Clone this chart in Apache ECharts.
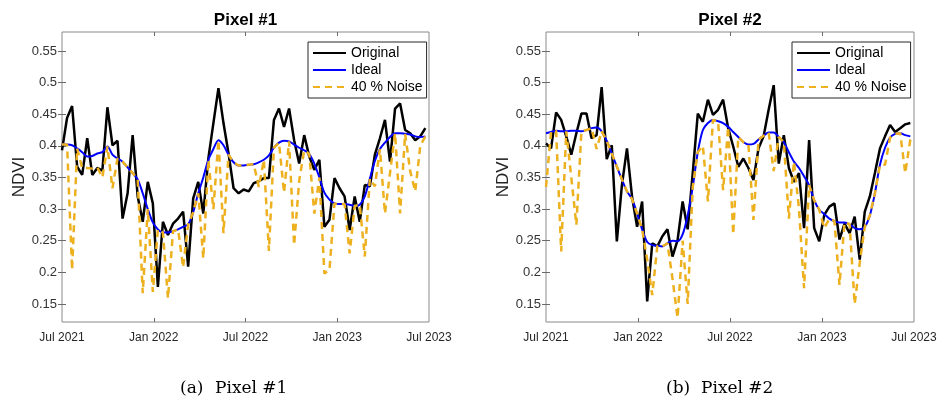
<!DOCTYPE html>
<html><head><meta charset="utf-8">
<script src="https://cdn.jsdelivr.net/npm/echarts@6/dist/echarts.min.js"></script>
<style>html,body{margin:0;padding:0;background:#fff}#c{width:945px;height:398px}</style>
</head><body><div id="c"></div>
<script>
// ---- data ----
const X_TICK_VALUES = [0, 6, 12, 18, 24];            // months since Jul 2021
const X_TICK_LABELS = ['Jul 2021', 'Jan 2022', 'Jul 2022', 'Jan 2023', 'Jul 2023'];
const Y_TICK_VALUES = [0.15, 0.2, 0.25, 0.3, 0.35, 0.4, 0.45, 0.5, 0.55];
const STEP_MONTHS = 0.33;                            // sampling step (~10 days)
const SERIES_NAMES = ['Original', 'Ideal', '40 % Noise'];
const PANEL_TITLES = ['Pixel #1', 'Pixel #2'];
const CAPTIONS = [['(a)', 'Pixel #1'], ['(b)', 'Pixel #2']];

const P1_ORIGINAL = [0.393,0.444,0.463,0.367,0.354,0.412,0.354,0.365,0.361,0.461,
0.401,0.408,0.285,0.325,0.417,0.320,0.280,0.343,0.309,0.177,
0.280,0.259,0.277,0.285,0.296,0.209,0.317,0.343,0.293,0.380,
0.436,0.491,0.436,0.388,0.333,0.325,0.331,0.328,0.341,0.344,
0.349,0.349,0.441,0.459,0.430,0.459,0.409,0.372,0.417,0.383,
0.362,0.378,0.272,0.283,0.349,0.333,0.320,0.267,0.320,0.280,
0.338,0.336,0.386,0.412,0.441,0.375,0.459,0.467,0.425,0.420,
0.409,0.415,0.428];
const P1_IDEAL = [0.402,0.402,0.401,0.396,0.390,0.383,0.384,0.388,0.390,0.399,
0.386,0.380,0.375,0.366,0.357,0.347,0.325,0.300,0.279,0.268,
0.263,0.263,0.265,0.268,0.272,0.276,0.295,0.325,0.350,0.378,
0.395,0.409,0.401,0.386,0.374,0.369,0.369,0.370,0.371,0.374,
0.378,0.385,0.397,0.405,0.408,0.407,0.402,0.397,0.393,0.387,
0.372,0.350,0.326,0.315,0.309,0.308,0.308,0.307,0.305,0.307,
0.320,0.348,0.376,0.395,0.405,0.414,0.420,0.420,0.419,0.418,
0.415,0.414,0.415];
const P1_NOISE = [0.402,0.402,0.204,0.396,0.365,0.365,0.364,0.366,0.350,0.399,
0.333,0.380,0.375,0.366,0.357,0.347,0.167,0.300,0.169,0.268,
0.263,0.159,0.265,0.268,0.208,0.276,0.295,0.325,0.222,0.378,
0.300,0.409,0.262,0.386,0.374,0.369,0.369,0.370,0.371,0.335,
0.378,0.234,0.397,0.405,0.326,0.407,0.243,0.345,0.393,0.387,
0.293,0.350,0.198,0.204,0.309,0.308,0.308,0.230,0.305,0.307,
0.225,0.348,0.336,0.395,0.293,0.357,0.420,0.293,0.419,0.360,
0.328,0.400,0.415];

const P2_ORIGINAL = [0.404,0.396,0.453,0.441,0.415,0.386,0.420,0.451,0.451,0.412,
0.417,0.493,0.379,0.401,0.249,0.338,0.396,0.320,0.272,0.312,
0.154,0.246,0.241,0.257,0.268,0.225,0.251,0.312,0.268,0.357,
0.451,0.438,0.473,0.449,0.457,0.473,0.428,0.399,0.367,0.380,
0.365,0.346,0.396,0.415,0.457,0.496,0.372,0.417,0.365,0.343,
0.357,0.270,0.409,0.270,0.249,0.291,0.304,0.309,0.252,0.277,
0.262,0.288,0.220,0.296,0.320,0.357,0.396,0.415,0.433,0.422,
0.428,0.434,0.436];
const P2_IDEAL = [0.420,0.422,0.424,0.423,0.423,0.424,0.424,0.423,0.425,0.428,
0.429,0.423,0.408,0.388,0.367,0.347,0.328,0.316,0.293,0.268,
0.248,0.243,0.242,0.241,0.246,0.250,0.249,0.260,0.290,0.335,
0.390,0.425,0.436,0.441,0.439,0.436,0.430,0.422,0.414,0.406,
0.402,0.403,0.410,0.416,0.421,0.421,0.414,0.406,0.390,0.375,
0.365,0.352,0.338,0.314,0.299,0.292,0.285,0.281,0.279,0.279,
0.276,0.270,0.268,0.272,0.290,0.325,0.370,0.397,0.413,0.419,
0.420,0.417,0.415];
const P2_NOISE = [0.335,0.422,0.424,0.233,0.423,0.350,0.275,0.423,0.425,0.428,
0.395,0.423,0.408,0.388,0.367,0.347,0.328,0.316,0.293,0.268,
0.220,0.164,0.242,0.241,0.246,0.190,0.128,0.250,0.150,0.335,
0.390,0.400,0.312,0.441,0.439,0.330,0.430,0.260,0.414,0.406,
0.402,0.283,0.410,0.416,0.421,0.360,0.414,0.406,0.285,0.375,
0.300,0.175,0.338,0.314,0.299,0.270,0.285,0.281,0.180,0.279,
0.276,0.150,0.215,0.272,0.290,0.325,0.370,0.370,0.413,0.419,
0.420,0.357,0.410];

// ---- chart ----
const FONT = "'Liberation Sans', Arial, Helvetica, sans-serif";
const SERIF = "'DejaVu Serif', 'Liberation Serif', serif";
const GRIDS = [{left: 62, top: 32, width: 367, height: 290}, {left: 546, top: 32, width: 368, height: 290}];
const LEGEND_POS = [{left: 308, top: 42}, {left: 792, top: 42}];
const PANELS = [[P1_ORIGINAL, P1_IDEAL, P1_NOISE], [P2_ORIGINAL, P2_IDEAL, P2_NOISE]];

function pts(arr) { return arr.map((v, i) => [i * STEP_MONTHS, v]); }

const chart = echarts.init(document.getElementById('c'), null, {renderer: 'canvas'});
const grid = [], xAxis = [], yAxis = [], series = [], legend = [], graphic = [];

GRIDS.forEach((g, k) => {
  grid.push(Object.assign({show: true, borderColor: '#8a8a8a', borderWidth: 1, backgroundColor: '#fff'}, g));
  const tickStyle = {color: '#6a6a6a', width: 1};
  const xBase = {gridIndex: k, type: 'value', min: 0, max: 24, axisLine: {show: false}, splitLine: {show: false}};
  xAxis.push(Object.assign({}, xBase, {
    position: 'bottom',
    axisTick: {show: true, inside: true, length: 4, customValues: [6, 12, 18], lineStyle: tickStyle},
    axisLabel: {show: true, customValues: X_TICK_VALUES, margin: 10, color: '#262626', fontSize: 12, fontFamily: FONT,
      formatter: v => X_TICK_LABELS[X_TICK_VALUES.indexOf(v)] || ''}
  }));
  xAxis.push(Object.assign({}, xBase, {
    position: 'top',
    axisTick: {show: true, inside: true, length: 4, customValues: [6, 12, 18], lineStyle: tickStyle},
    axisLabel: {show: false}
  }));
  const yBase = {gridIndex: k, type: 'value', min: 0.1215, max: 0.58, axisLine: {show: false}, splitLine: {show: false}};
  yAxis.push(Object.assign({}, yBase, {
    position: 'left',
    axisTick: {show: true, inside: true, length: 4, customValues: Y_TICK_VALUES, lineStyle: tickStyle},
    axisLabel: {show: true, customValues: Y_TICK_VALUES, margin: 5, color: '#333', fontSize: 13, fontFamily: FONT,
      formatter: v => String(+v.toFixed(2))}
  }));
  yAxis.push(Object.assign({}, yBase, {
    position: 'right',
    axisTick: {show: true, inside: true, length: 4, customValues: Y_TICK_VALUES, lineStyle: tickStyle},
    axisLabel: {show: false}
  }));

  const [orig, ideal, noise] = PANELS[k];
  const common = {type: 'line', xAxisIndex: 2 * k, yAxisIndex: 2 * k, symbol: 'none', showSymbol: false, animation: false, clip: true};
  series.push(Object.assign({}, common, {name: SERIES_NAMES[0], data: pts(orig), lineStyle: {color: '#000', width: 2.5}, itemStyle: {color: '#000'}}));
  series.push(Object.assign({}, common, {name: SERIES_NAMES[1], data: pts(ideal), smooth: 0.3, lineStyle: {color: '#0000ff', width: 2}, itemStyle: {color: '#0000ff'}}));
  series.push(Object.assign({}, common, {name: SERIES_NAMES[2], data: pts(noise), lineStyle: {color: '#EDB120', width: 2.5, type: [7, 5]}, itemStyle: {color: '#EDB120'}}));

  legend.push(Object.assign({
    orient: 'vertical', padding: [4, 4, 4, 4], itemGap: 3, itemWidth: 33, itemHeight: 14,
    borderColor: '#262626', borderWidth: 1, backgroundColor: '#fff', borderRadius: 0,
    textStyle: {fontSize: 14, color: '#000', fontFamily: FONT},
    itemStyle: {opacity: 0},
    selectedMode: false, data: SERIES_NAMES
  }, LEGEND_POS[k]));

  const cx = g.left + g.width / 2;
  graphic.push({type: 'text', x: cx, y: 20, style: {text: PANEL_TITLES[k], font: "bold 17px " + FONT, fill: '#000', textAlign: 'center', textVerticalAlign: 'middle'}});
  graphic.push({type: 'text', x: g.left - 43, y: 177, rotation: Math.PI / 2, style: {text: 'NDVI', font: "17px " + FONT, fill: '#262626', textAlign: 'center', textVerticalAlign: 'middle'}});
  const capLeft = k === 0 ? 180 : 666;
  graphic.push({type: 'text', x: capLeft, y: 389, style: {text: CAPTIONS[k][0], font: "17px " + SERIF, fill: '#000', textAlign: 'left', textVerticalAlign: 'middle'}});
  graphic.push({type: 'text', x: capLeft + 35, y: 389, style: {text: CAPTIONS[k][1], font: "17px " + SERIF, fill: '#000', textAlign: 'left', textVerticalAlign: 'middle'}});
});

chart.setOption({animation: false, backgroundColor: '#fff', grid, xAxis, yAxis, series, legend, graphic});
</script></body></html>
